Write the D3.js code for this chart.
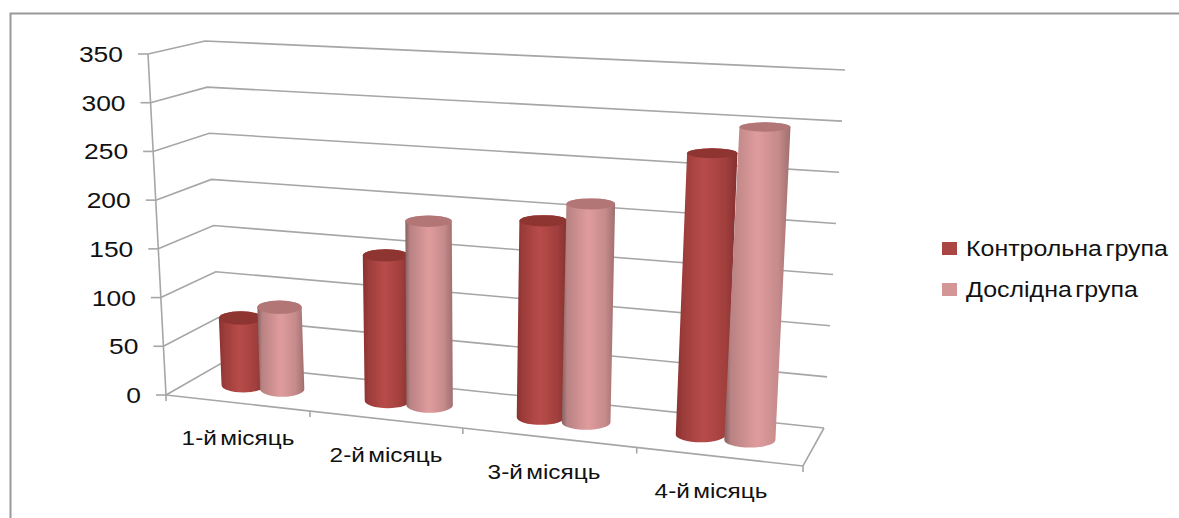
<!DOCTYPE html>
<html><head><meta charset="utf-8">
<style>html,body{margin:0;padding:0;background:#fff}svg{display:block}text{font-family:"Liberation Sans",Arial,sans-serif;fill:#111}</style>
<script src="https://cdn.jsdelivr.net/npm/d3@7"></script></head><body>
<svg id="c" width="1179" height="518"></svg>
<script>
const categories = ["1-й місяць","2-й місяць","3-й місяць","4-й місяць"];
const seriesNames = ["Контрольна група","Дослідна група"];
const control = [70,148,195,272];
const experimental = [85,186,215,300];
const valueTicks = [0,50,100,150,200,250,300,350];

const svg = d3.select("#c");
const defs = svg.append("defs");
defs.append("filter").attr("id","soft").append("feGaussianBlur").attr("stdDeviation",0.55);

// projected box corners: front/back, left/right, bottom/top
const fx0 = d3.scaleLinear([0,350],[166,148]), fy0 = d3.scaleLinear([0,350],[395,54]);
const fx1 = d3.scaleLinear([0,350],[803,825]), fy1 = d3.scaleLinear([0,350],[466,86]);
const bx0 = d3.scaleLinear([0,350],[220,205]), by0 = d3.scaleLinear([0,350],[364,41]);
const bx1 = d3.scaleLinear([0,350],[824,845]), by1 = d3.scaleLinear([0,350],[428,70]);
const lerp = (a,b,t)=>a+(b-a)*t;
function project(u,depth,val){
  const xf=lerp(fx0(val),fx1(val),u), yf=lerp(fy0(val),fy1(val),u);
  const xb=lerp(bx0(val),bx1(val),u), yb=lerp(by0(val),by1(val),u);
  return [lerp(xf,xb,depth),lerp(yf,yb,depth)];
}
// category boundaries and centres along the floor (perspective)
const uBand = d3.scaleLinear([0,1,2,3,4],[0,0.226,0.466,0.739,1]);
const uCentre = d3.scaleLinear([0,1,2,3],[0.1125,0.3475,0.597,0.858]);
const uOffset = d3.scaleLinear([0,1],[0.03,0.041]);
const line = d3.line();
const grid = svg.append("g").attr("filter","url(#soft)").attr("fill","none").attr("stroke","#a6a6a6").attr("stroke-width",1.6);

valueTicks.forEach(v=>{
  grid.append("path").attr("d",line([project(0,0,v),project(0,1,v),project(1,1,v)]));
  const p=project(0,0,v);
  grid.append("path").attr("d",line([[p[0]-10,p[1]],p]));
});
grid.append("path").attr("d",line([project(0,0,0),project(0,0,350)]));
grid.append("path").attr("d",line([project(0,0,0),project(1,0,0),project(1,1,0)]));
d3.range(0,5).forEach(i=>{
  const p=project(uBand(i),0,0);
  grid.append("path").attr("d",line([p,[p[0],p[1]+6]]));
});

// gradients
const shades = [
 {id:"g0",top:"#8e3533",stops:[[0,"#8a3230"],[0.12,"#9c3c3a"],[0.45,"#b84c4a"],[0.8,"#a13f3d"],[1,"#84302e"]]},
 {id:"g1",top:"#b37677",stops:[[0,"#85605f"],[0.1,"#b98283"],[0.5,"#e09c9d"],[0.82,"#c58a8b"],[1,"#a06e6e"]]}
];
shades.forEach(s=>{
  const g=defs.append("linearGradient").attr("id",s.id);
  s.stops.forEach(t=>g.append("stop").attr("offset",t[0]).attr("stop-color",t[1]));
});
const rxScale=d3.scaleLinear([0,1],[21.5,26]);
const ryScale=d3.scaleLinear([0,350],[7.5,4.2]);
const bars=svg.append("g").attr("filter","url(#soft)");
categories.forEach((c,i)=>{
  [control,experimental].forEach((vals,s)=>{
    const mid=uCentre(i), u=mid+(s?1:-1)*uOffset(mid), rx=rxScale(u), v=vals[i];
    const [xb,yb]=project(u,0.5,0), [xt,yt]=project(u,0.5,v);
    const ryb=ryScale(0), ryt=ryScale(v);
    const d=`M${xt-rx},${yt}L${xb-rx},${yb}A${rx},${ryb} 0 0 0 ${xb+rx},${yb}L${xt+rx},${yt}A${rx},${ryt} 0 0 0 ${xt-rx},${yt}Z`;
    bars.append("path").attr("d",d).attr("fill",`url(#${shades[s].id})`);
    bars.append("ellipse").attr("cx",xt).attr("cy",yt).attr("rx",rx).attr("ry",ryt).attr("fill",shades[s].top);
  });
});

// text is horizontally stretched in the reference
function stretch(sel,k){ const n=sel.node(); sel.attr("textLength",n.getComputedTextLength()*k).attr("lengthAdjust","spacingAndGlyphs"); return sel; }
const tg=svg.append("g");
valueTicks.forEach(v=>{
  const p=project(0,0,v);
  stretch(tg.append("text").attr("x",p[0]-25).attr("y",p[1]+8).attr("text-anchor","end").attr("font-size",22).text(v),1.2);
});
const labelX=[238,386,544,711], labelY=[445,462,479,498];
categories.forEach((c,i)=>{
  stretch(tg.append("text").attr("x",labelX[i]).attr("y",labelY[i]).attr("text-anchor","middle").attr("font-size",21).attr("word-spacing",-3).text(c),1.16);
});
// legend
const legY=[248,289];
seriesNames.forEach((n,i)=>{
  tg.append("rect").attr("x",942).attr("y",legY[i]-6).attr("width",15).attr("height",13).attr("fill",i?"#d49596":"#a94543");
  stretch(tg.append("text").attr("x",966).attr("y",legY[i]+8).attr("font-size",21.5).attr("word-spacing",-3).text(n),1.16);
});
// frame
svg.append("path").attr("d","M10.5,518V13.5H1179").attr("fill","none").attr("stroke","#999").attr("stroke-width",2);
</script></body></html>
